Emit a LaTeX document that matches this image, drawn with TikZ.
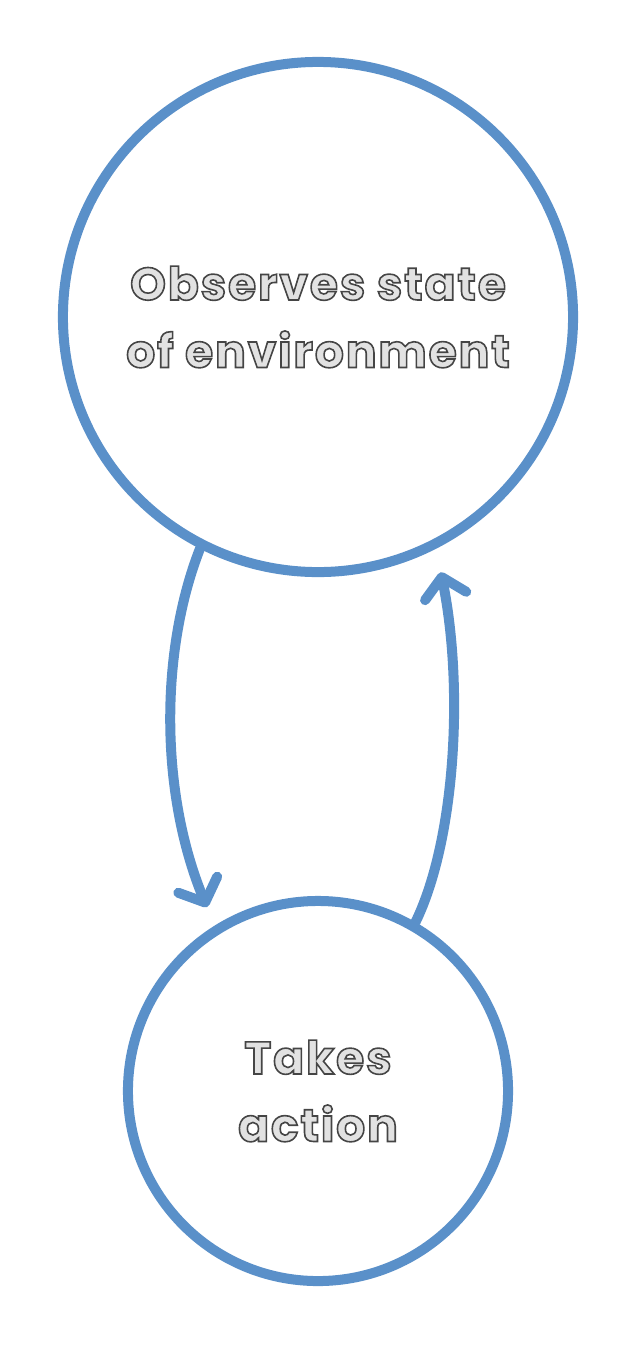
\documentclass[tikz,border=0pt]{standalone}
\usepackage{fontspec}
\newfontfamily\loopfont[FakeBold=3.5, LetterSpace=4]{Poppins}
\usetikzlibrary{arrows.meta}
\definecolor{loopblue}{RGB}{90,144,201}
\definecolor{paleink}{RGB}{226,226,226}
% dark gray outline round each glyph
\newcommand{\outl}[1]{{\color{paleink}\special{pdf:code 0.27 0.27 0.27 RG}#1}}

\begin{document}
\begin{tikzpicture}[
    x=0.025cm, y=-0.025cm,
    font=\loopfont\bfseries\fontsize{32.5}{48}\selectfont,
    circ/.style={circle, draw=loopblue, line width=0.25cm, inner sep=0pt, align=center},
    arr/.style={-{Straight Barb[length=0.48cm, width=1.05cm, round]}, line width=0.25cm,
                loopblue, line cap=round}
  ]
  \useasboundingbox (0,0) rectangle (636,1350);
  \node[circ, minimum size=12.75cm] (obs) at (318,317)
    {\outl{Observes state}\\\outl{of environment}};
  \node[circ, minimum size=9.5cm] (act) at (318,1091)
    {\outl{Takes}\\\outl{action}};
  \draw[arr, shorten >=0.5cm] (obs.243) .. controls +(-40,102) and +(-55,-133) .. (act.122);
  \draw[arr, shorten >=0.6cm] (act.60) .. controls +(40,-82) and +(28,138) .. (obs.297);
\end{tikzpicture}
\end{document}
